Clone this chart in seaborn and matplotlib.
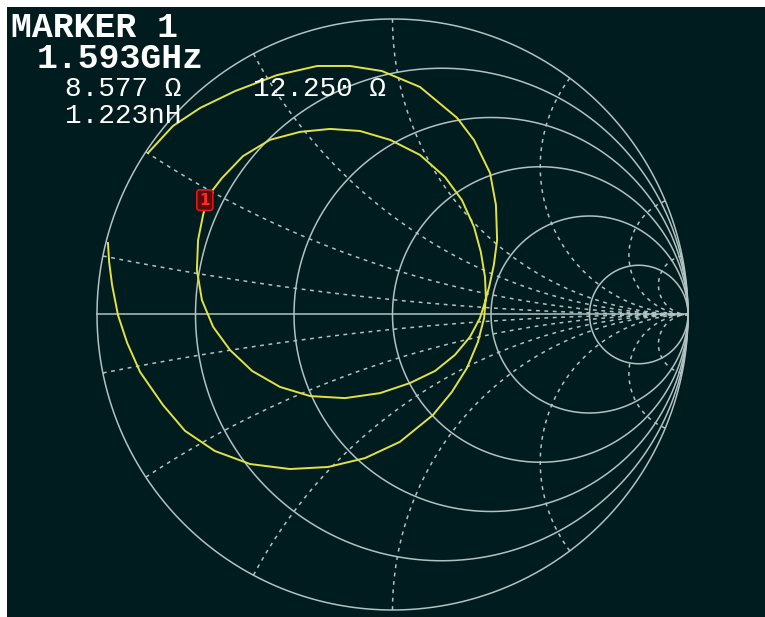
import numpy as np
import matplotlib
matplotlib.use("Agg")
import matplotlib.pyplot as plt
import seaborn as sns
import pandas as pd

# ---- data ----
R_CIRCLES = [0.0, 0.2, 0.5, 1.0, 2.0, 5.0]                 # solid constant-resistance circles
X_ARCS = [0.1, 0.3, 0.6, 1.0, 2.0, 5.0, 10.0,
          -0.1, -0.3, -0.6, -1.0, -2.0, -5.0, -10.0]       # dashed constant-reactance arcs

# trace: reflection coefficient (real, imag), in sweep order
TRACE_RE = [-0.827, -0.743, -0.651, -0.533, -0.391, -0.255, -0.144, -0.036, 0.093, 0.218,
            0.276, 0.330, 0.350, 0.354, 0.343, 0.327, 0.313,
            0.296, 0.262, 0.211, 0.144, 0.059, -0.042, -0.161, -0.279, -0.381, -0.475,
            -0.550, -0.607, -0.645, -0.662, -0.658, -0.641, -0.624, -0.577, -0.506, -0.415,
            -0.313, -0.211, -0.110, -0.008, 0.093, 0.178, 0.235, 0.276, 0.299, 0.313, 0.316,
            0.310, 0.289, 0.252, 0.201, 0.137, 0.025, -0.093, -0.218, -0.347, -0.482,
            -0.601, -0.702, -0.777, -0.854, -0.898, -0.929, -0.949, -0.959, -0.963]
TRACE_IM = [0.547, 0.638, 0.699, 0.756, 0.810, 0.841, 0.841, 0.824, 0.770, 0.666,
            0.590, 0.479, 0.371, 0.252, 0.168, 0.093, 0.042,
            -0.012, -0.076, -0.137, -0.191, -0.232, -0.266, -0.283, -0.276, -0.245, -0.191,
            -0.120, -0.042, 0.049, 0.151, 0.252, 0.337, 0.401, 0.462, 0.536, 0.591,
            0.618, 0.628, 0.621, 0.591, 0.540, 0.465, 0.387, 0.296, 0.211, 0.127, 0.059,
            -0.012, -0.093, -0.181, -0.262, -0.340, -0.431, -0.486, -0.516, -0.523, -0.506,
            -0.462, -0.394, -0.306, -0.195, -0.096, -0.002, 0.100, 0.178, 0.242]

MARKER_RE = -0.635
MARKER_IM = 0.387
MARKER_LABEL = "1"

TEXT_TITLE = "MARKER 1"
TEXT_FREQ = "1.593GHz"
TEXT_R = "8.577 Ω"
TEXT_X = "12.250 Ω"
TEXT_L = "1.223nH"

# ---- styling ----
BG = "#011c1e"
GRID = "#b2c2c2"
TRACE = "#e2e244"

W, H = 765, 617
fig = plt.figure(figsize=(W / 100, H / 100), dpi=100, facecolor="white")
ax = fig.add_axes([7 / W, 0, 758 / W, 610 / H])
ax.set_facecolor(BG)
ax.set_xlim(-1.3046, 1.2606)
ax.set_ylim(-1.0237, 1.0406)
ax.set_xticks([])
ax.set_yticks([])
for s in ax.spines.values():
    s.set_visible(False)

# resistance circles
t = np.linspace(0, 2 * np.pi, 720)
for r in R_CIRCLES:
    c = r / (1 + r)
    rad = 1 / (1 + r)
    ax.plot(c + rad * np.cos(t), rad * np.sin(t), color=GRID, lw=1.1, zorder=2)

# real axis
ax.plot([-1, 1], [0, 0], color=GRID, lw=1.1, zorder=2)

# reactance arcs
rr = np.concatenate([[0.0], np.logspace(-3, 3.5, 800)])
for xv in X_ARCS:
    z = rr + 1j * xv
    g = (z - 1) / (z + 1)
    ax.plot(g.real, g.imag, color=GRID, lw=1.1, ls=(0, (2.5, 3.0)), zorder=2)

# trace
df = pd.DataFrame({"re": TRACE_RE, "im": TRACE_IM})
sns.lineplot(data=df, x="re", y="im", sort=False, estimator=None,
             color=TRACE, lw=1.4, ax=ax, zorder=4)
ax.set_xlabel("")
ax.set_ylabel("")

# marker
ax.text(MARKER_RE, MARKER_IM, MARKER_LABEL, color="#ff2a2a", fontsize=11,
        fontweight="bold", ha="center", va="center", family="DejaVu Sans",
        bbox=dict(boxstyle="round,pad=0.18", fc="#5a0c0c", ec="#e01818", lw=1.2),
        zorder=6)

# texts (top-left readout)
mono = ["Liberation Mono", "DejaVu Sans Mono"]
def ftxt(px, py, s, size, weight="normal"):
    fig.text(px / W, 1 - py / H, s, color="white", fontsize=size,
             fontweight=weight, family=mono, ha="left", va="baseline", zorder=10)

ftxt(11, 37, TEXT_TITLE, 25, "bold")
ftxt(37, 68, TEXT_FREQ, 25, "bold")
ftxt(65, 96, TEXT_R, 20)
ftxt(253, 96, TEXT_X, 20)
ftxt(65, 123, TEXT_L, 20)

fig.savefig("out.png", dpi=100, facecolor="white")
